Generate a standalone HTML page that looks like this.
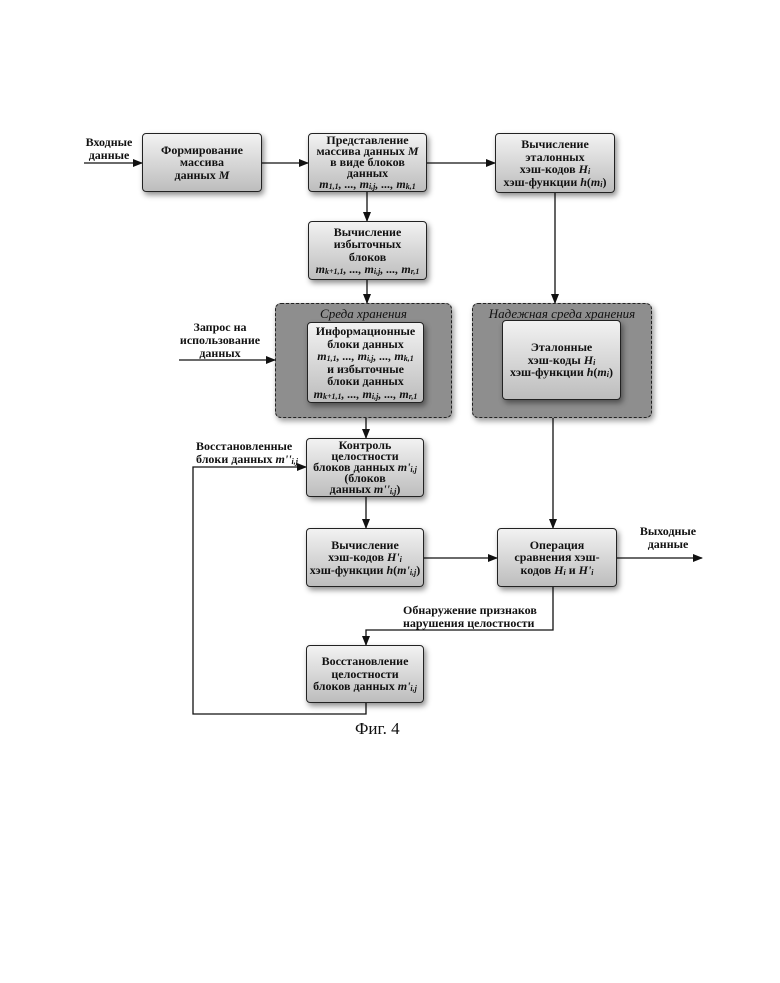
<!DOCTYPE html>
<html><head><meta charset="utf-8"><style>
body{margin:0;width:780px;height:983px;background:#fff;position:relative;overflow:hidden;font-family:"Liberation Serif",serif;color:#111}
.b{position:absolute;box-sizing:border-box;border:1.5px solid #222;border-radius:4px;background:linear-gradient(#f2f2f2,#bdbdbd);box-shadow:2px 3px 6px rgba(0,0,0,.45);display:flex;align-items:center;justify-content:center;text-align:center;font-size:12px;font-weight:bold;line-height:12.5px}
.b>div{width:100%;white-space:nowrap}
.d{line-height:11px}
.c{position:absolute;box-sizing:border-box;border:1.5px dashed #222;border-radius:6px;background:#8e8e8e;box-shadow:2px 3px 6px rgba(0,0,0,.4)}
.ct{position:absolute;left:0;right:0;top:2px;text-align:center;font-style:italic;font-size:13px}
.l{position:absolute;font-size:12px;font-weight:bold;line-height:13px;text-align:center;white-space:nowrap}
i{font-weight:bold}
sub{font-size:8px;vertical-align:-1px;line-height:0}
</style></head><body>
<svg width="780" height="983" style="position:absolute;left:0;top:0">
<defs><marker id="a" markerWidth="10" markerHeight="8" refX="9" refY="4" orient="auto" markerUnits="userSpaceOnUse"><path d="M0,0 L10,4 L0,8 z" fill="#111"/></marker></defs>
<g stroke="#111" stroke-width="1.3" fill="none">
<line x1="84" y1="163" x2="142" y2="163" marker-end="url(#a)"/>
<line x1="262" y1="163" x2="308" y2="163" marker-end="url(#a)"/>
<line x1="427" y1="163" x2="495" y2="163" marker-end="url(#a)"/>
<line x1="367" y1="192" x2="367" y2="221" marker-end="url(#a)"/>
<line x1="367" y1="280" x2="367" y2="303" marker-end="url(#a)"/>
<line x1="555" y1="193" x2="555" y2="303" marker-end="url(#a)"/>
<line x1="179" y1="360" x2="275" y2="360" marker-end="url(#a)"/>
<line x1="366" y1="403" x2="366" y2="438" marker-end="url(#a)"/>
<line x1="553" y1="400" x2="553" y2="528" marker-end="url(#a)"/>
<line x1="366" y1="497" x2="366" y2="528" marker-end="url(#a)"/>
<line x1="424" y1="558" x2="497" y2="558" marker-end="url(#a)"/>
<line x1="617" y1="558" x2="702" y2="558" marker-end="url(#a)"/>
<polyline points="553,587 553,630 366,630 366,645" marker-end="url(#a)"/>
<polyline points="366,703 366,714 193,714 193,467 306,467" marker-end="url(#a)"/>
</g></svg>
<div class="l" style="left:84px;top:136px;width:50px">Входные<br>данные</div>
<div class="b" style="left:142px;top:133px;width:120px;height:59px"><div>Формирование<br>массива<br>данных <i>M</i></div></div>
<div class="b d" style="left:308px;top:133px;width:119px;height:59px"><div>Представление<br>массива данных <i>M</i><br>в виде блоков<br>данных<br><i>m<sub>1,1</sub>, ..., m<sub>i,j</sub>, ..., m<sub>k,1</sub></i></div></div>
<div class="b" style="left:495px;top:133px;width:120px;height:60px"><div>Вычисление<br>эталонных<br>хэш-кодов <i>H<sub>i</sub></i><br>хэш-функции <i>h</i>(<i>m<sub>i</sub></i>)</div></div>
<div class="b" style="left:308px;top:221px;width:119px;height:59px"><div>Вычисление<br>избыточных<br>блоков<br><i>m<sub>k+1,1</sub>, ..., m<sub>i,j</sub>, ..., m<sub>r,1</sub></i></div></div>
<div class="c" style="left:275px;top:303px;width:177px;height:115px"><div class="ct">Среда хранения</div></div>
<div class="b" style="left:307px;top:322px;width:117px;height:81px"><div>Информационные<br>блоки данных<br><i>m<sub>1,1</sub>, ..., m<sub>i,j</sub>, ..., m<sub>k,1</sub></i><br>и избыточные<br>блоки данных<br><i>m<sub>k+1,1</sub>, ..., m<sub>i,j</sub>, ..., m<sub>r,1</sub></i></div></div>
<div class="c" style="left:472px;top:303px;width:180px;height:115px"><div class="ct">Надежная среда хранения</div></div>
<div class="b" style="left:502px;top:320px;width:119px;height:80px"><div>Эталонные<br>хэш-коды <i>H<sub>i</sub></i><br>хэш-функции <i>h</i>(<i>m<sub>i</sub></i>)</div></div>
<div class="l" style="left:170px;top:321px;width:100px">Запрос на<br>использование<br>данных</div>
<div class="l" style="left:196px;top:440px;width:110px;text-align:left">Восстановленные<br>блоки данных <i>m''<sub>i,j</sub></i></div>
<div class="b d" style="left:306px;top:438px;width:118px;height:59px"><div>Контроль<br>целостности<br>блоков данных <i>m'<sub>i,j</sub></i><br>(блоков<br>данных <i>m''<sub>i,j</sub></i>)</div></div>
<div class="b" style="left:306px;top:528px;width:118px;height:59px"><div>Вычисление<br>хэш-кодов <i>H'<sub>i</sub></i><br>хэш-функции <i>h</i>(<i>m'<sub>i,j</sub></i>)</div></div>
<div class="b" style="left:497px;top:528px;width:120px;height:59px"><div>Операция<br>сравнения хэш-<br>кодов <i>H<sub>i</sub></i> и <i>H'<sub>i</sub></i></div></div>
<div class="l" style="left:630px;top:525px;width:76px">Выходные<br>данные</div>
<div class="l" style="left:403px;top:604px;width:150px;text-align:left">Обнаружение признаков<br>нарушения целостности</div>
<div class="b" style="left:306px;top:645px;width:118px;height:58px"><div>Восстановление<br>целостности<br>блоков данных <i>m'<sub>i,j</sub></i></div></div>
<div style="position:absolute;left:355px;top:719px;font-size:17px">Фиг. 4</div>
</body></html>
